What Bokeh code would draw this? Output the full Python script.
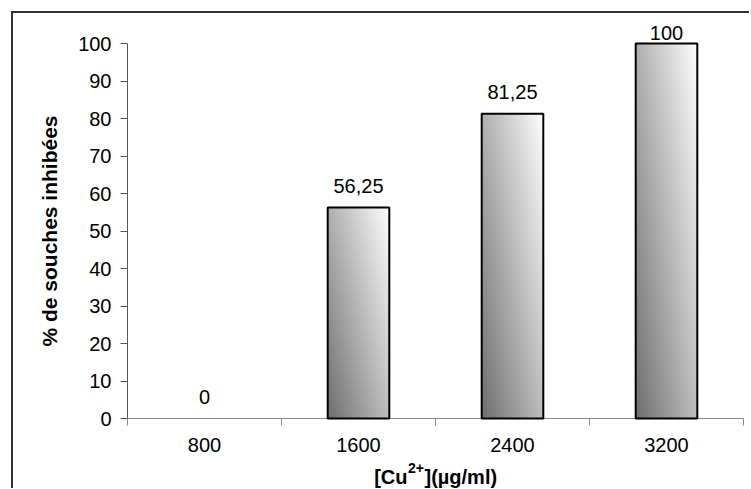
import math
import numpy as np
from bokeh.plotting import figure
from bokeh.models import (FixedTicker, Range1d, ColumnDataSource, LabelSet, Label,
                          LinearAxis)
from bokeh.core.properties import value
from bokeh.embed import file_html
from bokeh.resources import INLINE

categories = ["800", "1600", "2400", "3200"]
values = [0, 56.25, 81.25, 100]
value_labels = ["0", "56,25", "81,25", "100"]
y_ticks = [0, 10, 20, 30, 40, 50, 60, 70, 80, 90, 100]
x_title_parts = ["[Cu", "2+", "](µg/ml)"]
y_title = "% de souches inhibées"

FONT = "Liberation Sans"
BAR_W = 0.4
Y_MAX = 100
N = len(categories)

# canvas / plotting-area geometry (pixels inside the canvas)
CW, CH = 738, 477
AX_L, AX_R = 114, 730      # x pixel of category axis start / end
AX_T, AX_B = 30, 405       # y pixel of value 100 / value 0
ppx = (AX_R - AX_L) / N
ppy = (AX_B - AX_T) / Y_MAX
x_range = Range1d(-AX_L / ppx, N + (CW - AX_R) / ppx)
y_range = Range1d(-(CH - AX_B) / ppy, Y_MAX + AX_T / ppy)

p = figure(width=CW, height=CH, output_backend="svg", toolbar_location=None,
           x_range=x_range, y_range=y_range, x_axis_location=None, y_axis_location=None,
           min_border=0)
p.styles = {"margin-left": "11px", "margin-top": "11px",
            "border-top": "2px solid #333", "border-left": "2px solid #333"}
p.outline_line_color = None
p.grid.visible = False
p.background_fill_color = "white"
p.border_fill_color = "white"

centers = [i + 0.5 for i in range(N)]

# axis lines
p.segment(x0=[0], y0=[0], x1=[N], y1=[0], line_color="#888", line_width=1)
p.segment(x0=[0], y0=[0], x1=[0], y1=[Y_MAX], line_color="#555", line_width=1)

# gradient-filled bars (dark lower-left to light upper-right)
H, W = 120, 48
uu, vv = np.meshgrid(np.linspace(0, 1, W), np.linspace(0, 1, H))
t = 0.55 * uu + 0.45 * vv
g = (112 + 142 * t).astype(np.uint32)
grad = (255 << 24) | (g << 16) | (g << 8) | g
for c, v in zip(centers, values):
    if v <= 0:
        continue
    p.image_rgba(image=[grad], x=c - BAR_W / 2, y=0, dw=BAR_W, dh=v)

src = ColumnDataSource(dict(x=centers, top=values, lab=value_labels,
                            alpha=[1.0 if v > 0 else 0.0 for v in values],
                            off=[4 if v >= Y_MAX else 15 for v in values]))
p.vbar(x="x", top="top", width=BAR_W, bottom=0, source=src, fill_color=None,
       line_color="black", line_width=2, line_alpha="alpha")
p.add_layout(LabelSet(x="x", y="top", text="lab", source=src, y_offset="off",
                      text_align="center", text_baseline="alphabetic",
                      text_font=value(FONT), text_font_size=value("20px"),
                      text_color="black"))

# axes at fixed positions
xa = LinearAxis(fixed_location=0)
xa.ticker = FixedTicker(ticks=centers, minor_ticks=list(range(N + 1)))
xa.major_label_overrides = {c: lab for c, lab in zip(centers, categories)}
xa.axis_line_color = None
xa.major_tick_out = 0
xa.major_tick_in = 0
xa.minor_tick_out = 7
xa.minor_tick_in = 0
xa.minor_tick_line_color = "#888"
xa.major_label_text_font = FONT
xa.major_label_text_font_size = "20px"
xa.major_label_text_color = "black"
xa.major_label_standoff = 12
p.add_layout(xa, "below")

ya = LinearAxis(fixed_location=0)
ya.ticker = FixedTicker(ticks=y_ticks)
ya.axis_line_color = None
ya.minor_tick_line_color = None
ya.major_tick_out = 7
ya.major_tick_in = 0
ya.major_tick_line_color = "#555"
ya.major_label_text_font = FONT
ya.major_label_text_font_size = "20px"
ya.major_label_text_color = "black"
ya.major_label_standoff = 9
p.add_layout(ya, "left")

# y title
p.add_layout(Label(x=0, y=Y_MAX / 2, x_offset=-78, angle=math.pi / 2, text=y_title,
                   text_font=FONT, text_font_style="bold", text_font_size="21px",
                   text_color="black", text_align="center", text_baseline="middle"))

# x title with real superscript
xmid = N / 2
BIG, SMALL = 20, 14
w0 = (0.333 + 0.722 + 0.611) * BIG
w1 = (0.556 + 0.584) * SMALL
w2 = (0.333 + 0.333 + 0.611 + 0.611 + 0.278 + 0.889 + 0.278 + 0.333) * BIG
start = -(w0 + w1 + w2) / 2
base = -58
p.add_layout(Label(x=xmid, y=0, x_offset=start, y_offset=base, text=x_title_parts[0],
                   text_font=FONT, text_font_style="bold", text_font_size=f"{BIG}px",
                   text_color="black", text_align="left", text_baseline="alphabetic"))
p.add_layout(Label(x=xmid, y=0, x_offset=start + w0 + 0.5, y_offset=base + 9, text=x_title_parts[1],
                   text_font=FONT, text_font_style="bold", text_font_size=f"{SMALL}px",
                   text_color="black", text_align="left", text_baseline="alphabetic"))
p.add_layout(Label(x=xmid, y=0, x_offset=start + w0 + w1 + 1, y_offset=base, text=x_title_parts[2],
                   text_font=FONT, text_font_style="bold", text_font_size=f"{BIG}px",
                   text_color="black", text_align="left", text_baseline="alphabetic"))

open("out.html", "w").write(file_html(p, INLINE))
